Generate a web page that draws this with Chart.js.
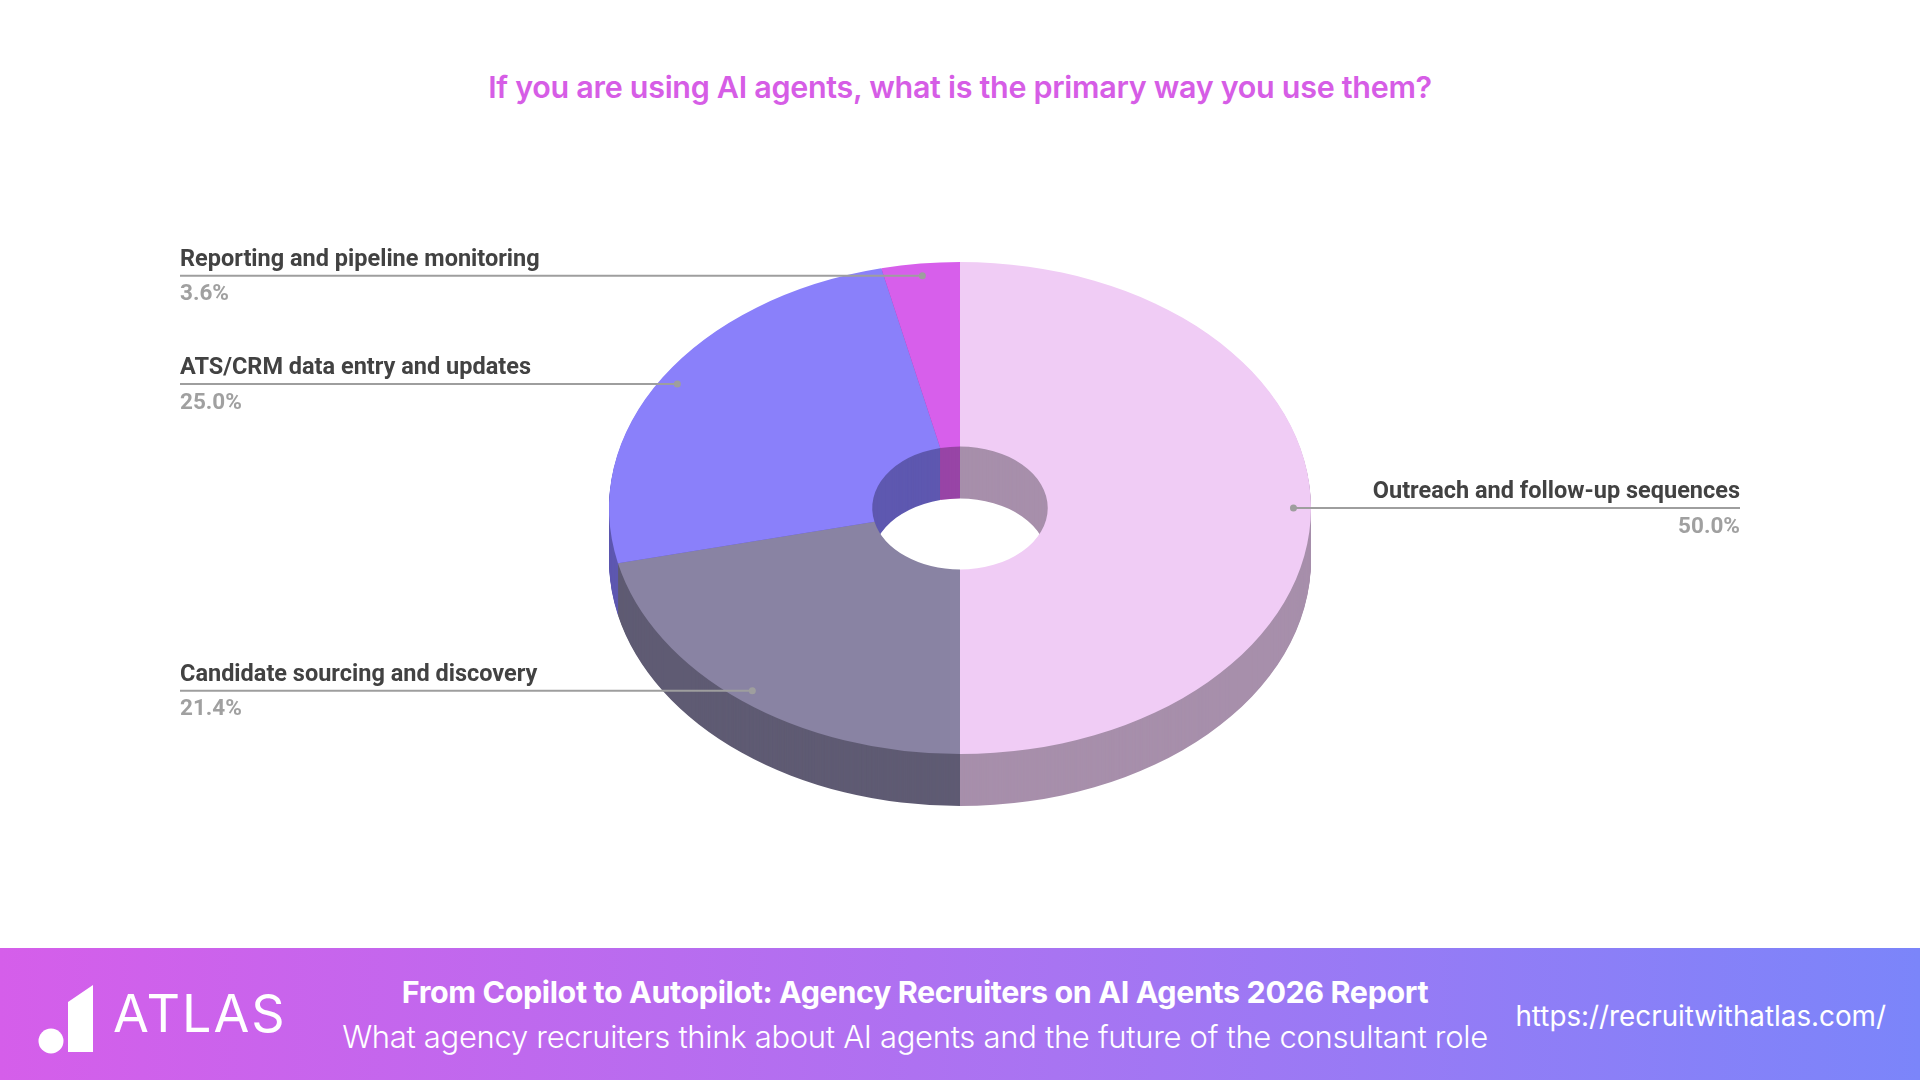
<!DOCTYPE html>
<html>
<head>
<meta charset="utf-8">
<script src="https://cdn.jsdelivr.net/npm/chart.js@4/dist/chart.umd.min.js"></script>
<style>
  html, body { margin: 0; padding: 0; background: #fff; }
  body { width: 1920px; height: 1080px; position: relative; overflow: hidden; font-family: Inter, "Noto Sans", sans-serif; }
  #title { position: absolute; top: 68px; left: 0; width: 1920px; text-align: center; color: #D65DE6; font-size: 30.5px; font-weight: 600; letter-spacing: -0.3px; }
  #wrap { position: absolute; left: 0; top: 0; width: 1920px; height: 948px; }
  #footer { position: absolute; left: 0; top: 948px; width: 1920px; height: 132px; background: linear-gradient(90deg, #D55EEA 0%, #A874F2 55%, #7B85FA 100%); color: #fff; }
  #logoText { position: absolute; left: 113px; top: 34px; font-size: 52px; font-weight: 400; letter-spacing: 2px; }
  #repTitle { position: absolute; left: 0; width: 1830px; top: 25px; text-align: center; font-size: 30.5px; font-weight: 700; letter-spacing: -0.4px; }
  #repSub { position: absolute; left: 0; width: 1830px; top: 70px; text-align: center; font-size: 31px; font-weight: 300; letter-spacing: -0.3px; }
  #url { position: absolute; right: 34px; top: 51px; font-size: 27.8px; font-weight: 400; }
</style>
</head>
<body>
<div id="title">If you are using AI agents, what is the primary way you use them?</div>
<div id="wrap"><canvas id="pieChart" width="1920" height="948"></canvas></div>
<div id="footer">
  <svg width="110" height="132" style="position:absolute;left:0;top:0">
    <circle cx="51" cy="93" r="12.5" fill="#fff"/>
    <polygon points="68,54 93,37 93,104 68,104" fill="#fff"/>
  </svg>
  <div id="logoText">ATLAS</div>
  <div id="repTitle">From Copilot to Autopilot: Agency Recruiters on AI Agents 2026 Report</div>
  <div id="repSub">What agency recruiters think about AI agents and the future of the consultant role</div>
  <div id="url">https://recruitwithatlas.com/</div>
</div>
<script>
// --- DATA (clockwise from 12 o'clock) ---
const categories = [
  'Outreach and follow-up sequences',
  'Candidate sourcing and discovery',
  'ATS/CRM data entry and updates',
  'Reporting and pipeline monitoring'
];
const shares = [50.0, 21.4, 25.0, 3.6];
const topColors = ['#F0CCF5', '#8983A3', '#8A80FA', '#D75FEB'];
const sideColors = ['#A78FAB', '#5F5B73', '#5E58B0', '#9845A6'];

// --- 3D LOOK ---
const TILT = 246 / 351;   // vertical squash of the disc
const DEPTH = 52;         // thickness of the disc, px

function tilt(ctx, cx, cy, off) {
  ctx.translate(cx, cy + off);
  ctx.scale(1, TILT);
  ctx.translate(-cx, -cy);
}

const pie3d = {
  id: 'pie3d',
  beforeDatasetsDraw(chart) {
    const ctx = chart.ctx;
    const arcs = chart.getDatasetMeta(0).data;
    const cx = arcs[0].x, cy = arcs[0].y;
    // extrude: stack darker copies from the bottom up
    for (let off = DEPTH; off >= 1; off--) {
      ctx.save();
      tilt(ctx, cx, cy, off);
      arcs.forEach((arc, i) => {
        ctx.beginPath();
        ctx.arc(cx, cy, arc.outerRadius, arc.startAngle, arc.endAngle);
        ctx.arc(cx, cy, arc.innerRadius, arc.endAngle, arc.startAngle, true);
        ctx.closePath();
        ctx.fillStyle = sideColors[i];
        ctx.fill();
      });
      ctx.restore();
    }
    // top face is drawn by the library under the same squash
    ctx.save();
    tilt(ctx, cx, cy, 0);
  },
  afterDatasetsDraw(chart) {
    chart.ctx.restore();
  },
  afterDraw(chart) {
    const ctx = chart.ctx;
    const arcs = chart.getDatasetMeta(0).data;
    arcs.forEach((arc, i) => {
      const mid = (arc.startAngle + arc.endAngle) / 2;
      const dx = arc.x + 0.95 * arc.outerRadius * Math.cos(mid);
      const dy = arc.y + 0.95 * arc.outerRadius * TILT * Math.sin(mid);
      const right = Math.cos(mid) > 0;
      const endX = right ? 1740 : 180;

      ctx.strokeStyle = '#9E9E9E';
      ctx.lineWidth = 2;
      ctx.beginPath();
      ctx.moveTo(dx, dy);
      ctx.lineTo(endX, dy);
      ctx.stroke();
      ctx.fillStyle = '#9E9E9E';
      ctx.beginPath();
      ctx.arc(dx, dy, 3.5, 0, Math.PI * 2);
      ctx.fill();

      ctx.textAlign = right ? 'right' : 'left';
      ctx.textBaseline = 'middle';
      ctx.font = 'bold 23.5px Roboto';
      ctx.fillStyle = '#424242';
      ctx.fillText(categories[i], endX, dy - 16);
      ctx.font = 'bold 22.5px Roboto';
      ctx.fillStyle = '#A0A0A0';
      ctx.fillText(shares[i].toFixed(1) + '%', endX, dy + 19);
    });
  }
};

new Chart(document.getElementById('pieChart'), {
  type: 'doughnut',
  data: {
    labels: categories,
    datasets: [{
      data: shares,
      backgroundColor: topColors,
      borderWidth: 0
    }]
  },
  options: {
    responsive: false,
    animation: false,
    events: [],
    cutout: '25%',
    layout: { padding: { top: 157, bottom: 89, left: 0, right: 0 } },
    plugins: { legend: { display: false }, tooltip: { enabled: false } }
  },
  plugins: [pie3d]
});
</script>
</body>
</html>
